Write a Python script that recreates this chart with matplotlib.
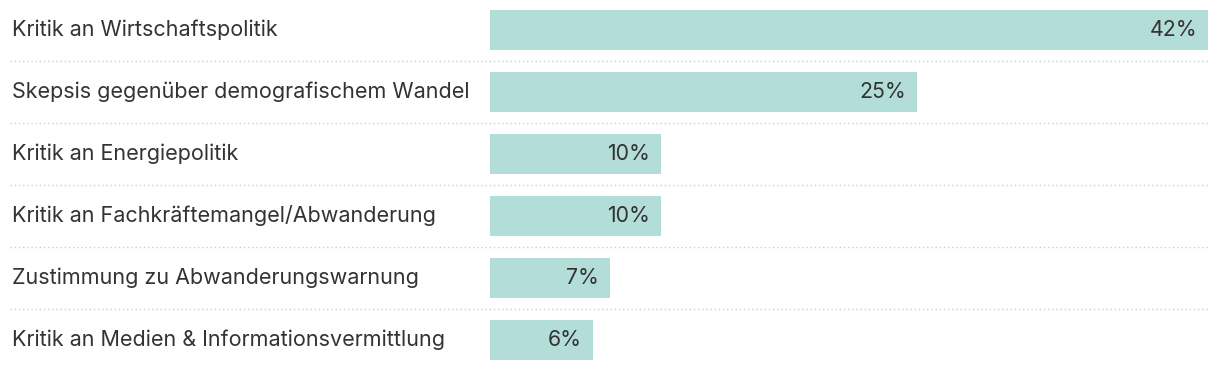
import matplotlib
matplotlib.use('Agg')
from matplotlib import pyplot as plt
from matplotlib import transforms

categories = ['Kritik an Wirtschaftspolitik',
              'Skepsis gegenüber demografischem Wandel',
              'Kritik an Energiepolitik',
              'Kritik an Fachkräftemangel/Abwanderung',
              'Zustimmung zu Abwanderungswarnung',
              'Kritik an Medien & Informationsvermittlung']
values = [42, 25, 10, 10, 7, 6]
value_labels = ['42%', '25%', '10%', '10%', '7%', '6%']

plt.rcParams['font.family'] = ['Inter', 'DejaVu Sans']

W, H = 1220, 370
fig = plt.figure(figsize=(W / 100, H / 100), dpi=100)
# bars area: 490px .. 1208px, rows every 62px, first centered at 30px
ax = fig.add_axes([490 / W, 0, 718 / W, 1])
ax.set_xlim(0, max(values))
step = 62
ax.set_ylim((H - 30) / step, -30 / step)
ax.axis('off')

ypos = list(range(len(categories)))
ax.barh(ypos, values, height=40 / step, color='#b2ddd8')

px = max(values) / 718  # data units per pixel
for y, v, lab in zip(ypos, values, value_labels):
    ax.text(v - 11 * px, y, lab, ha='right', va='center', fontsize=15.3, color='#333333')

trans = transforms.blended_transform_factory(fig.transFigure, ax.transData)
for y, cat in zip(ypos, categories):
    ax.text(12 / W, y, cat, transform=trans, ha='left', va='center', fontsize=15.5, color='#333333')

for y in ypos[:-1]:
    ax.plot([10 / W, 1208 / W], [y + 0.5, y + 0.5], transform=trans, color='#cccccc',
            lw=1, linestyle=(0, (1, 2)), clip_on=False)

fig.savefig('out.png', dpi=100)
